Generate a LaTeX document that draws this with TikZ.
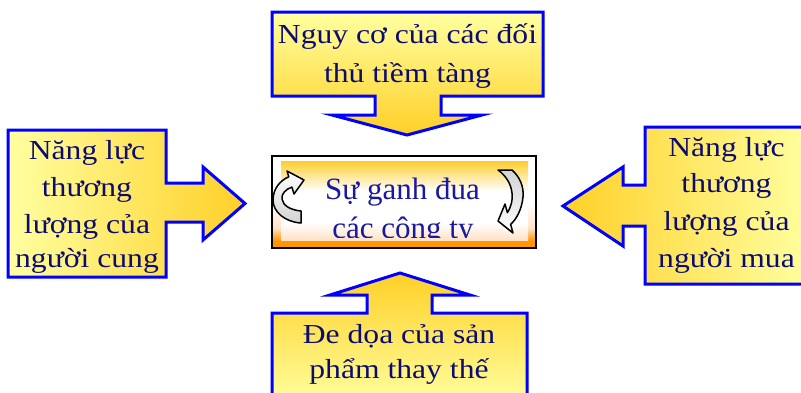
\documentclass[tikz,border=0pt]{standalone}
\usepackage{fontspec}
\setmainfont{Liberation Serif}
\newfontfamily\widefont[FakeStretch=1.15]{Liberation Serif}

\definecolor{navytext}{RGB}{12,12,110}
\definecolor{paleyellow}{RGB}{255,255,160}
\definecolor{goldtip}{RGB}{255,208,40}
\definecolor{calloutblue}{RGB}{0,0,255}
\definecolor{ctrblue}{RGB}{25,25,160}
\definecolor{ctrgold}{RGB}{255,204,40}
\definecolor{ctrorange}{RGB}{255,150,0}
\definecolor{ctrpeach}{RGB}{255,226,200}

% frame of the central box: white at the top, orange strip at the bottom
\pgfdeclareverticalshading{ctrframe}{100bp}{%
  color(0bp)=(ctrorange); color(25bp)=(ctrorange); color(29bp)=(ctrorange);
  color(36bp)=(ctrpeach); color(50bp)=(white); color(100bp)=(white)}
% inner panel: gold top, white middle, peach bottom
\pgfdeclareverticalshading{ctrpanel}{100bp}{%
  color(0bp)=(ctrpeach); color(25bp)=(ctrpeach); color(36bp)=(white);
  color(56bp)=(white); color(70bp)=(ctrgold!70!white); color(75bp)=(ctrgold);
  color(100bp)=(ctrgold)}

\tikzset{
  callout/.style={draw=calloutblue, line width=3pt, line join=miter},
  lbl/.style={font=\widefont\fontsize{27.5}{33}\selectfont, text=navytext,
    inner sep=0pt, anchor=base},
  ctrlbl/.style={font=\fontsize{31}{37}\selectfont, text=ctrblue,
    inner sep=0pt, anchor=base},
  swirl/.style={draw=black, line width=1.5pt, line join=round},
}

\begin{document}
\begin{tikzpicture}[x=1pt, y=-1pt]
\useasboundingbox (0,0) rectangle (801,392);
\begin{scope}
\clip (0,0) rectangle (801,392);

% threat of new entrants (top, pointing down)
\path[callout, top color=paleyellow, bottom color=goldtip]
  (272,12) -- (543,12) -- (543,96) -- (441,96) -- (441,115) -- (482,115)
  -- (407,135) -- (332,115) -- (375,115) -- (375,96) -- (272,96) -- cycle;
\node[lbl] (top1) at (407.5,43) {Nguy cơ của các đối};
\node[lbl] (top2) at (407.5,82) {thủ tiềm tàng};

% bargaining power of suppliers (left, pointing right)
\path[callout, left color=paleyellow, right color=goldtip]
  (8,130) -- (166,130) -- (166,183) -- (203,183) -- (203,167) -- (245,203.5)
  -- (203,240) -- (203,222) -- (166,222) -- (166,277) -- (8,277) -- cycle;
\node[lbl] (left1) at (87,159) {Năng lực};
\node[lbl] (left2) at (87,196) {thương};
\node[lbl] (left3) at (87,233) {lượng của};
\node[lbl] (left4) at (87,267) {người cung};

% bargaining power of buyers (right, pointing left)
\path[callout, left color=goldtip, right color=paleyellow]
  (563,206) -- (623,167) -- (623,185) -- (645,185) -- (645,127) -- (812,127)
  -- (812,284) -- (645,284) -- (645,226) -- (623,226) -- (623,246) -- cycle;
\node[lbl] (right1) at (726.5,156) {Năng lực};
\node[lbl] (right2) at (726.5,192) {thương};
\node[lbl] (right3) at (726.5,230) {lượng của};
\node[lbl] (right4) at (726.5,267) {người mua};

% threat of substitutes (bottom, pointing up)
\path[callout, top color=goldtip, bottom color=paleyellow]
  (400,273) -- (470,295) -- (432,295) -- (432,313) -- (527,313) -- (527,405)
  -- (272,405) -- (272,313) -- (367,313) -- (367,295) -- (330,295) -- cycle;
\node[lbl] (bot1) at (399,343) {Đe dọa của sản};
\node[lbl] (bot2) at (399,378) {phẩm thay thế};

% central box: rivalry among existing firms
\path[shading=ctrframe, draw=black, line width=2pt]
  (272,156) rectangle (536,248);
\path[shading=ctrpanel] (281,161) rectangle (528,240);
\node[ctrlbl] (ctr1) at (402.5,199) {Sự ganh đua};
\begin{scope}
  \clip (281,161) rectangle (528,237.5);
  \node[ctrlbl] (ctr2) at (403,238) {các công ty};
\end{scope}

% circular arrows on both sides of the central box
\path[swirl, top color=white, bottom color=gray!35]
  (301,223) .. controls (285,222) and (273,212) .. (273,200)
  .. controls (273,188) and (281,180) .. (288.8,176.8)
  -- (287,171) -- (304,180) -- (294,194) -- (291.9,187.1)
  .. controls (286,189) and (281,194) .. (282,199)
  .. controls (283,206) and (291,210) .. (301,211) -- cycle;
\path[swirl, top color=gray!35, bottom color=white]
  (498,170) -- (512,170)
  .. controls (520,177) and (524,187) .. (523,197)
  .. controls (522,208) and (517,219) .. (510.6,224.3)
  -- (513,233) -- (498,221) -- (505,204) -- (507.4,212.7)
  .. controls (511,207) and (513,200) .. (512,193)
  .. controls (511,183) and (505,175) .. (498,170) -- cycle;
\end{scope}
\end{tikzpicture}
\end{document}
